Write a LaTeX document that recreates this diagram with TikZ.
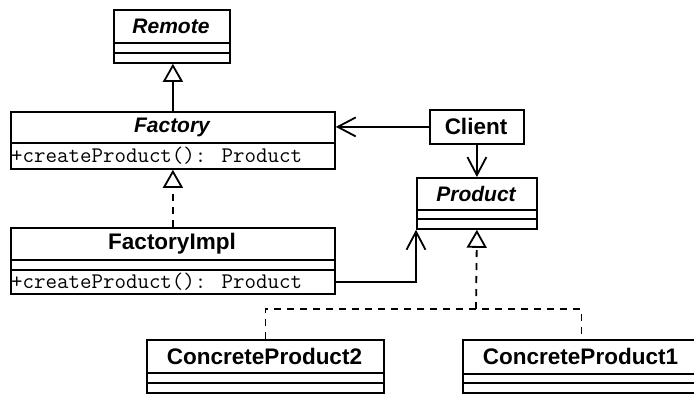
\documentclass[tikz,border=0pt]{standalone}
\usepackage{fontspec}
\setmainfont{Liberation Sans}
\usetikzlibrary{arrows.meta}

\begin{document}
\begin{tikzpicture}[x=1pt,y=-1pt,
  classbox/.style={draw=black,line width=1.8pt,fill=white,inner sep=0pt,anchor=north west},
  sepline/.style={line width=1.8pt},
  cname/.style={inner sep=0pt,font=\fontsize{22.5}{26}\selectfont\bfseries},
  aname/.style={inner sep=0pt,font=\fontsize{21}{25}\selectfont\bfseries\itshape},
  member/.style={inner sep=0pt,anchor=west,font=\fontsize{22.3}{24}\ttfamily},
  gen/.style={line width=1.8pt,-{Triangle[length=18pt,width=20pt,fill=white]}},
  real/.style={gen,dash pattern=on 7pt off 6pt},
  dep/.style={line width=1.8pt,dash pattern=on 7pt off 6pt},
  assoc/.style={line width=1.8pt,-{Straight Barb[length=18pt,width=19pt]}}]
\clip (0,0) rectangle (694,394);

% Remote (abstract)
\node[classbox,minimum width=116pt,minimum height=53pt] (remote) at (113,9) {};
\node[aname] (remoteN) at (171,26) {Remote};
\draw[sepline] (113,43) -- (229,43);
\draw[sepline] (113,53) -- (229,53);

% Factory (abstract)
\node[classbox,minimum width=324pt,minimum height=57pt] (factory) at (10,111) {};
\node[aname] (factoryN) at (172,127) {Factory};
\draw[sepline] (10,143) -- (334,143);
\node[member] (factoryM) at (11,156) {+createProduct(): Product};

% FactoryImpl
\node[classbox,minimum width=324pt,minimum height=66pt] (fimpl) at (10,227) {};
\node[cname] (fimplN) at (172,243.5) {FactoryImpl};
\draw[sepline] (10,260) -- (334,260);
\draw[sepline] (10,270) -- (334,270);
\node[member] (fimplM) at (11,282) {+createProduct(): Product};

% Client
\node[classbox,minimum width=94pt,minimum height=34pt] (client) at (429,109) {};
\node[cname] (clientN) at (476,126) {Client};

% Product (abstract)
\node[classbox,minimum width=120pt,minimum height=51pt] (product) at (416,177) {};
\node[aname] (productN) at (476,193.5) {Product};
\draw[sepline] (416,210) -- (536,210);
\draw[sepline] (416,219) -- (536,219);

% ConcreteProduct2
\node[classbox,minimum width=237pt,minimum height=53pt] (cp2) at (146,339) {};
\node[cname] (cp2N) at (264.5,356) {ConcreteProduct2};
\draw[sepline] (146,373) -- (383,373);
\draw[sepline] (146,383) -- (383,383);

% ConcreteProduct1 (runs past the right edge)
\node[classbox,minimum width=237pt,minimum height=53pt] (cp1) at (462,339) {};
\node[cname] (cp1N) at (580.5,356) {ConcreteProduct1};
\draw[sepline] (462,374) -- (699,374);
\draw[sepline] (462,383) -- (699,383);

% connectors
\coordinate (join) at (476,309);
\coordinate (fimplOut) at (334,282);

\draw[gen] (factory.north) -- (factory.north |- remote.south);
\draw[real] (fimpl.north) -- (factory.south);
\draw[assoc] (client.west) -- (client.west -| factory.east);
\draw[assoc] (client.south) -- (client.south |- product.north);
\draw[assoc] (fimplOut) -| (product.south west);
\draw[dep] (cp2.north) -- (cp2.north |- join) -- (cp1.north |- join) -- (cp1.north);
\draw[real] (join) -- (product.south);
\end{tikzpicture}
\end{document}
